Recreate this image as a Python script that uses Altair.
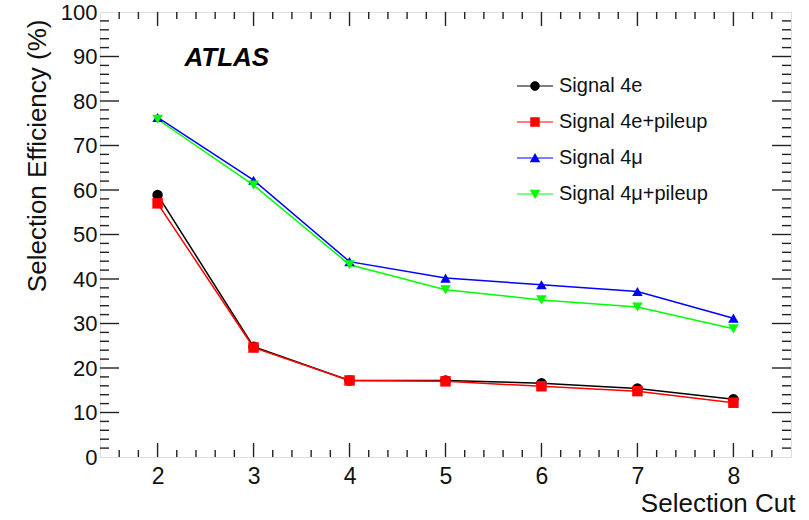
import altair as alt
import pandas as pd

# ---- data ----
cuts = [2, 3, 4, 5, 6, 7, 8]
series_names = ["Signal 4e", "Signal 4e+pileup", "Signal 4μ", "Signal 4μ+pileup"]
sig_4e = [58.9, 24.8, 17.2, 17.2, 16.6, 15.4, 13.0]
sig_4e_pu = [57.0, 24.6, 17.2, 17.0, 15.9, 14.8, 12.2]
sig_4mu = [76.3, 62.2, 43.9, 40.2, 38.7, 37.2, 31.2]
sig_4mu_pu = [75.9, 61.1, 43.2, 37.6, 35.3, 33.7, 28.8]
colors = ["#000000", "#ff0000", "#0000ff", "#00ff00"]
shapes = ["circle", "square", "triangle-up", "triangle-down"]

x_major = [2, 3, 4, 5, 6, 7, 8]
x_minor = [round(1.4 + 0.2 * i, 1) for i in range(1, 36) if abs((1.4 + 0.2 * i) - round(1.4 + 0.2 * i)) > 1e-6]
y_labels = [0, 10, 20, 30, 40, 50, 60, 70, 80, 90, 100]
y_major = [10, 20, 30, 40, 50, 60, 70, 80, 90]
y_minor = [v for v in range(2, 100, 2) if v % 10 != 0]

rows = []
for name, vals in zip(series_names, [sig_4e, sig_4e_pu, sig_4mu, sig_4mu_pu]):
    for c, v in zip(cuts, vals):
        rows.append({"cut": c, "eff": v, "series": name})
df = pd.DataFrame(rows)

W, H = 691, 445
FONT = "Liberation Sans"

xscale = alt.Scale(domain=[1.4, 8.6], nice=False, zero=False)
yscale = alt.Scale(domain=[0, 100], nice=False, zero=False)

X = alt.X("cut:Q", scale=xscale,
          axis=alt.Axis(values=x_major, format="d", title="Selection Cut", domain=False, ticks=False,
                        grid=False, labelFontSize=23, labelPadding=8, labelColor="#111", labelFont=FONT,
                        titleFontSize=26, titleFont=FONT, titleFontWeight="normal", titleColor="#111",
                        titleAlign="right", titleBaseline="middle", titleX=W + 4, titleY=46))
Y = alt.Y("eff:Q", scale=yscale,
          axis=alt.Axis(values=y_labels, format="d", title="Selection Efficiency (%)", domain=False,
                        ticks=False, grid=False, labelFontSize=22, labelPadding=3, labelColor="#111",
                        labelFont=FONT, titleFontSize=26, titleFont=FONT, titleFontWeight="normal",
                        titleColor="#111", titleAngle=270, titleAlign="right", titleBaseline="middle",
                        titleX=-63, titleY=7))

color_scale = alt.Scale(domain=series_names, range=colors)

lines = alt.Chart(df).mark_line(strokeWidth=1.5).encode(
    x=X, y=Y,
    color=alt.Color("series:N", scale=color_scale, legend=None),
    order="cut:Q",
)

points = alt.Chart(df).mark_point(filled=True, size=110, opacity=1).encode(
    x=alt.X("cut:Q", scale=xscale), y=alt.Y("eff:Q", scale=yscale),
    color=alt.Color("series:N", scale=color_scale, legend=None),
    shape=alt.Shape("series:N", scale=alt.Scale(domain=series_names, range=shapes), legend=None),
)

# legend symbols: line segment + marker
seg = "M-3.6,-0.12H3.6V0.12H-3.6Z"
leg_paths = [
    seg + "M-0.95,0A0.95,0.95 0 1,1 0.95,0A0.95,0.95 0 1,1 -0.95,0Z",
    seg + "M-0.95,-0.95H0.95V0.95H-0.95Z",
    seg + "M0,-1.0L1.05,0.85L-1.05,0.85Z",
    seg + "M0,1.0L-1.05,-0.85L1.05,-0.85Z",
]
legend = alt.Legend(title=None, orient="none", legendX=425, legendY=64, labelFontSize=20,
                    labelFont=FONT, labelColor="#111", labelOffset=14, symbolSize=100,
                    symbolStrokeWidth=0, rowPadding=16, padding=0)
legend_layer = alt.Chart(df).transform_filter("datum.cut < 0").mark_point(filled=True, opacity=1).encode(
    x=alt.X("cut:Q", scale=xscale), y=alt.Y("eff:Q", scale=yscale),
    color=alt.Color("series:N", scale=color_scale, legend=legend),
    shape=alt.Shape("series:N", scale=alt.Scale(domain=series_names, range=leg_paths), legend=legend),
)

# ATLAS label
atlas_df = pd.DataFrame({"cut": [2.28], "eff": [89.7], "label": ["ATLAS"]})
atlas = alt.Chart(atlas_df).mark_text(align="left", baseline="middle", fontSize=26, fontStyle="italic",
                                      fontWeight="bold", font=FONT, color="black").encode(
    x=alt.X("cut:Q", scale=xscale), y=alt.Y("eff:Q", scale=yscale), text="label:N")

# inward ticks
tick_color = "#222"
xmaj = pd.DataFrame({"cut": x_major})
xmin = pd.DataFrame({"cut": x_minor})
ymaj = pd.DataFrame({"eff": y_major})
ymin = pd.DataFrame({"eff": y_minor})

def xticks(d, length):
    b = alt.Chart(d).mark_rule(color=tick_color, strokeWidth=1.4).encode(
        x=alt.X("cut:Q", scale=xscale), y=alt.value(H), y2=alt.value(H - length))
    t = alt.Chart(d).mark_rule(color=tick_color, strokeWidth=1.4).encode(
        x=alt.X("cut:Q", scale=xscale), y=alt.value(0), y2=alt.value(length))
    return b + t

def yticks(d, length):
    l = alt.Chart(d).mark_rule(color=tick_color, strokeWidth=1.4).encode(
        y=alt.Y("eff:Q", scale=yscale), x=alt.value(0), x2=alt.value(length))
    r = alt.Chart(d).mark_rule(color=tick_color, strokeWidth=1.4).encode(
        y=alt.Y("eff:Q", scale=yscale), x=alt.value(W), x2=alt.value(W - length))
    return l + r

ticks = xticks(xmaj, 14) + xticks(xmin, 7) + yticks(ymaj, 19) + yticks(ymin, 9)

chart = alt.layer(lines, ticks, points, legend_layer, atlas).resolve_scale(
    color="independent", shape="independent"
).properties(
    width=W, height=H,
    autosize=alt.AutoSizeParams(type="none"),
    padding={"left": 100, "top": 12, "right": 18, "bottom": 63},
).configure_view(stroke="black", strokeWidth=2).configure(background="white")

chart.save("out.html", embed_options={"renderer": "svg", "actions": False})
